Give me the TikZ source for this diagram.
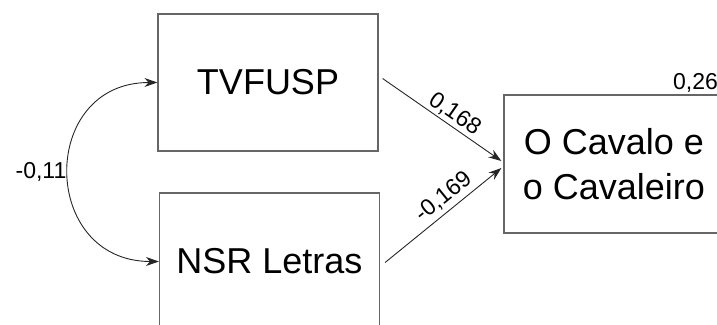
\documentclass[tikz,border=0pt]{standalone}
\usepackage{fontspec}
\setmainfont{Liberation Sans}
\usetikzlibrary{arrows.meta}
\tikzset{
  observed/.style={rectangle, draw=black!60, line width=1.2pt, minimum width=220pt, minimum height=137pt, inner sep=0pt, align=center, font=\fontsize{36}{45}\selectfont},
  regpath/.style={-{Stealth[length=13pt,width=9pt]}, line width=0.9pt, black!85},
  covpath/.style={{Stealth[length=13pt,width=9pt]}-{Stealth[length=13pt,width=9pt]}, line width=0.9pt, black!85},
  coeflabel/.style={font=\fontsize{23}{26}\selectfont, text=black, inner sep=2pt}
}
\begin{document}
\begin{tikzpicture}[x=1pt, y=-1pt]
  \useasboundingbox (0,0) rectangle (717,324);
  \clip (0,0) rectangle (717,324);

  % observed variables
  \node[observed] (tvfusp) at (268,82.5) {TVFUSP};
  \node[observed] (nsr) at (269.5,261.5) {NSR Letras};
  \node[observed, minimum height=138pt] (cavalo) at (614,164) {O Cavalo e\\o Cavaleiro};
  \node[coeflabel, anchor=base west, inner sep=0pt] (rsq) at (673,89) {0,26};

  % regression paths
  \draw[regpath] ([xshift=4pt,yshift=4pt]tvfusp.east)
    -- node[coeflabel, sloped, above, pos=0.55] {0,168} ([xshift=-2pt,yshift=3pt]cavalo.west);
  \draw[regpath] ([xshift=5pt,yshift=-1pt]nsr.east)
    -- node[coeflabel, sloped, above, pos=0.58, inner sep=4pt] {-0,169} ([xshift=-2pt,yshift=-4pt]cavalo.west);

  % covariance
  \draw[covpath] (tvfusp.west) to[out=180, in=180, looseness=1.7]
    node[coeflabel, left] {-0,11} (nsr.west);
\end{tikzpicture}
\end{document}
